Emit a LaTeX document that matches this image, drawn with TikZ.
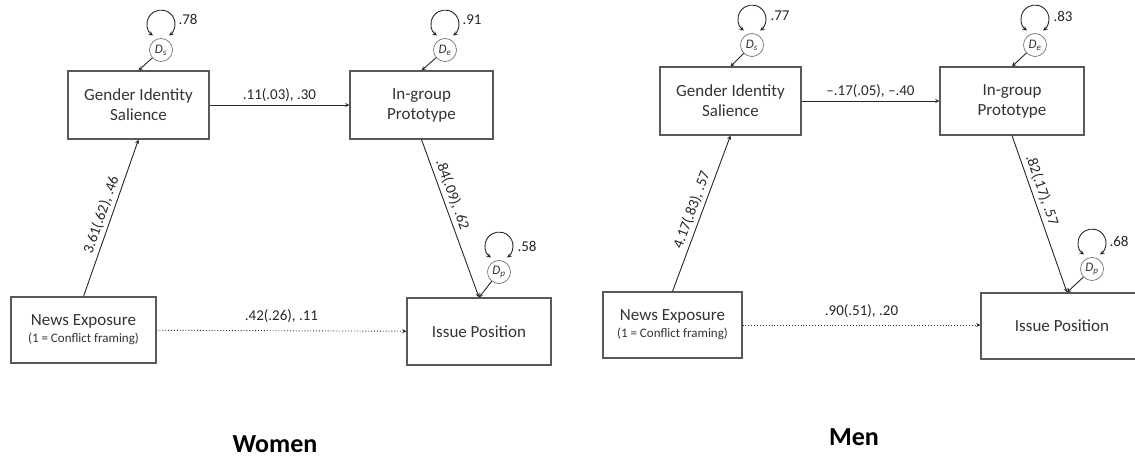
\documentclass[tikz,border=0pt]{standalone}
\usepackage{fontspec}
\setmainfont{Carlito}
\usetikzlibrary{arrows}
\begin{document}
\begin{tikzpicture}[x=1pt,y=1pt,
    box/.style={draw=black!65,line width=1.1pt,minimum width=141pt,minimum height=68pt,align=center,text=black!80,font=\fontsize{17}{20}\selectfont},
    dist/.style={circle,draw=black!55,line width=0.7pt,minimum size=23pt,inner sep=0pt,text=black!80,font=\fontsize{13}{14}\selectfont\itshape},
    path/.style={->,>=stealth,line width=0.9pt,draw=black!85},
    coef/.style={font=\fontsize{15}{17}\selectfont,text=black!85},
    group/.style={font=\fontsize{26}{30}\selectfont\bfseries,anchor=base}]
    \useasboundingbox (0,0) rectangle (1135,458);
    % Women
    \node[box] (wgis) at (138.5,353) {Gender Identity\\Salience};
    \node[box,minimum width=143pt] (wigp) at (421.5,353) {In-group\\Prototype};
    \node[box,minimum width=145pt,minimum height=66pt] (wnews) at (83.5,128) {News Exposure\\[-3pt]{\fontsize{13}{15}\selectfont(1 = Conflict framing)}};
    \node[box,minimum width=144pt,minimum height=67pt] (wiss) at (479,126.5) {Issue Position};
    \node[dist] (wds) at (161,408) {D\textsubscript{s}};
    \node[dist] (wde) at (445,408) {D\textsubscript{e}};
    \node[dist] (wdp) at (499,186) {D\textsubscript{p}};
    \draw[path] (wds) -- (wgis.north);
    \draw[path] (wde) -- (wigp.north);
    \draw[path] (wdp) -- (wiss.north);
    \draw[path,<->] ([shift={(-8,14.5)}]wds.center) arc[start angle=235,end angle=-55,radius=14];
    \draw[path,<->] ([shift={(-8,14.5)}]wde.center) arc[start angle=235,end angle=-55,radius=14];
    \draw[path,<->] ([shift={(-8,14.5)}]wdp.center) arc[start angle=235,end angle=-55,radius=14];
    \node[coef] (wdsv) at (188,439) {.78};
    \node[coef] (wdev) at (472,438) {.91};
    \node[coef] (wdpv) at (527,212) {.58};
    \draw[path] (wgis) -- node[coef,above] {.11(.03), .30} (wigp);
    \draw[path] (wnews.north) -- node[coef,midway,sloped,above] {3.61(.62), .46} (wgis.south);
    \draw[path] (wigp.south) -- node[coef,pos=0.37,sloped,above] {.84(.09), .62} (wiss.north);
    \draw[path,dotted] (wnews) -- node[coef,above=4pt] {.42(.26), .11} (wiss);
    \node[group] (women) at (275,6) {Women};
    % Men
    \node[box] (mgis) at (730.5,357) {Gender Identity\\Salience};
    \node[box,minimum width=144pt] (migp) at (1012,357) {In-group\\Prototype};
    \node[box,minimum width=139pt,minimum height=66pt] (mnews) at (672.5,133) {News Exposure\\[-3pt]{\fontsize{13}{15}\selectfont(1 = Conflict framing)}};
    \node[box,minimum width=162pt,minimum height=66pt] (miss) at (1062,132) {Issue Position};
    \node[dist] (mds) at (752,413) {D\textsubscript{s}};
    \node[dist] (mde) at (1035,413) {D\textsubscript{e}};
    \node[dist] (mdp) at (1092,189) {D\textsubscript{p}};
    \draw[path] (mds) -- (mgis.north);
    \draw[path] (mde) -- (migp.north);
    \draw[path] (mdp) -- ([xshift=5pt]miss.north);
    \draw[path,<->] ([shift={(-8,14.5)}]mds.center) arc[start angle=235,end angle=-55,radius=14];
    \draw[path,<->] ([shift={(-8,14.5)}]mde.center) arc[start angle=235,end angle=-55,radius=14];
    \draw[path,<->] ([shift={(-8,14.5)}]mdp.center) arc[start angle=235,end angle=-55,radius=14];
    \node[coef] (mdsv) at (780,442) {.77};
    \node[coef] (mdev) at (1063,442) {.83};
    \node[coef] (mdpv) at (1119,217) {.68};
    \draw[path] (mgis) -- node[coef,above] {--.17(.05), --.40} (migp);
    \draw[path] (mnews.north) -- node[coef,midway,sloped,above] {4.17(.83), .57} (mgis.south);
    \draw[path] (migp.south) -- node[coef,pos=0.37,sloped,above] {.82(.17), .57} ([xshift=5pt]miss.north);
    \draw[path,dotted] (mnews) -- node[coef,above=4pt] {.90(.51), .20} (mnews -| miss.west);
    \node[group] (men) at (854,13) {Men};
\end{tikzpicture}
\end{document}
